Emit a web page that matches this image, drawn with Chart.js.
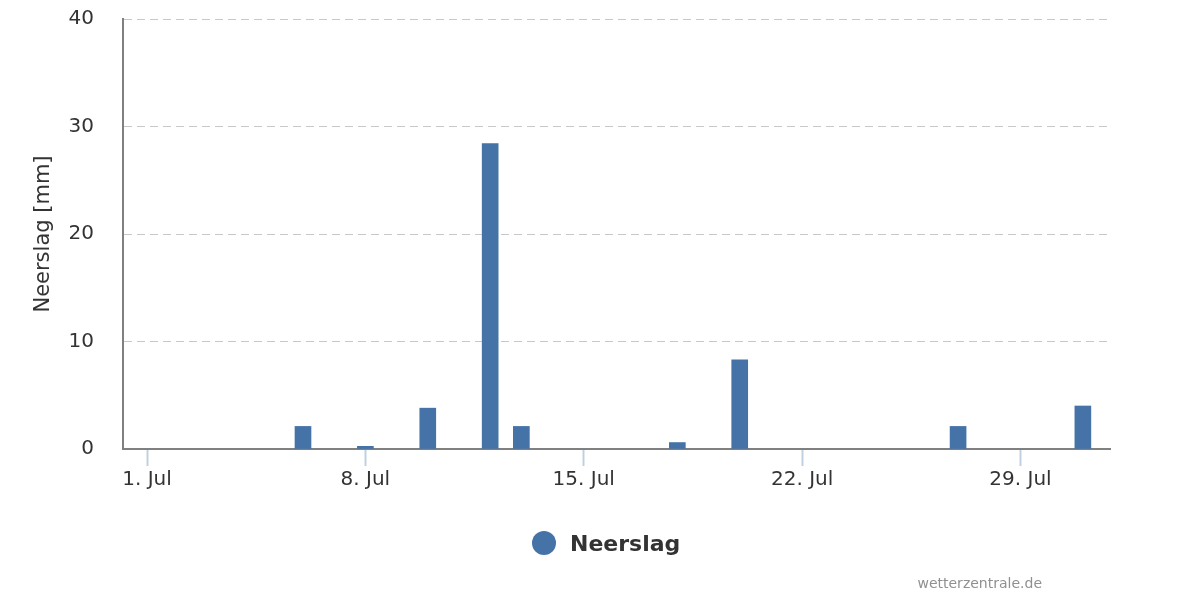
<!DOCTYPE html>
<html>
<head>
<meta charset="utf-8">
<script src="https://cdn.jsdelivr.net/npm/chart.js@4"></script>
<style>
  body { margin: 0; background: #fff; font-family: "DejaVu Sans", sans-serif; }
  #wrap { position: relative; width: 1200px; height: 600px; }
  #legend { position: absolute; left: 532px; top: 529px; height: 28px; display: flex; align-items: center; }
  #legend .dot { width: 24px; height: 24px; border-radius: 50%; background: #4572a7; margin-right: 14px; }
  #legend .txt { font-size: 22px; font-weight: bold; color: #333; }
  #credits { position: absolute; right: 158px; top: 575px; font-size: 14px; color: #909090; }
</style>
</head>
<body>
<div id="wrap">
  <canvas id="myChart" width="1200" height="600"></canvas>
  <div id="legend"><span class="dot"></span><span class="txt">Neerslag</span></div>
  <div id="credits">wetterzentrale.de</div>
</div>
<script>
// days of July and daily rainfall in mm
const days = [1, 2, 3, 4, 5, 6, 7, 8, 9, 10, 11, 12, 13, 14, 15, 16,
  17, 18, 19, 20, 21, 22, 23, 24, 25, 26, 27, 28, 29, 30, 31];
const neerslag = [0, 0, 0, 0, 0, 2.1, 0, 0.25, 0, 3.8, 0, 28.4, 2.1, 0, 0, 0,
  0, 0.6, 0, 8.3, 0, 0, 0, 0, 0, 0, 2.1, 0, 0, 0, 4.0];
const tickDays = [1, 8, 15, 22, 29];
const yTicks = [0, 10, 20, 30, 40];

const ctx = document.getElementById('myChart');
const font = 'DejaVu Sans';

const chart = new Chart(ctx, {
  type: 'bar',
  data: {
    datasets: [{
      label: 'Neerslag',
      data: days.map((d, i) => ({ x: d, y: neerslag[i] })),
      // no sliver for dry days
      backgroundColor: (c) => c.raw && c.raw.y > 0 ? '#4572a7' : 'rgba(0,0,0,0)',
      borderWidth: 0,
      barThickness: 16
    }]
  },
  options: {
    responsive: false,
    animation: false,
    layout: { padding: { left: 0, right: 90, top: 19, bottom: 0 } },
    plugins: {
      legend: { display: false },
      tooltip: { enabled: false }
    },
    scales: {
      x: {
        type: 'linear',
        min: 0.23,
        max: 31.87,
        offset: false,
        afterBuildTicks: (scale) => {
          scale.ticks = tickDays.map(v => ({ value: v }));
        },
        afterFit: (scale) => {
          scale.height = 151;
          scale.paddingLeft = 0;
          scale.paddingRight = 0;
        },
        grid: {
          offset: false,
          drawOnChartArea: false,
          drawTicks: true,
          tickLength: 17,
          tickColor: '#c0d0e0',
          tickWidth: 2
        },
        border: { display: true, color: '#808080', width: 2 },
        ticks: {
          autoSkip: false,
          maxRotation: 0,
          padding: 2,
          color: '#333',
          font: { family: font, size: 20 },
          callback: (v) => v + '. Jul'
        }
      },
      y: {
        min: 0,
        max: 40,
        afterBuildTicks: (scale) => {
          scale.ticks = yTicks.map(v => ({ value: v }));
        },
        afterFit: (scale) => {
          scale.width = 123;
          scale.paddingTop = 0;
          scale.paddingBottom = 0;
        },
        grid: {
          color: (c) => c.tick && c.tick.value === 0 ? 'rgba(0,0,0,0)' : '#c8c8c8',
          lineWidth: 1,
          drawTicks: false
        },
        border: { display: true, color: '#808080', width: 2, dash: [8, 5] },
        ticks: {
          padding: 29,
          color: '#333',
          font: { family: font, size: 20 }
        },
        title: {
          display: true,
          text: 'Neerslag [mm]',
          color: '#333',
          padding: { top: 31, bottom: 0 },
          font: { family: font, size: 21 }
        }
      }
    }
  }
});
</script>
</body>
</html>
